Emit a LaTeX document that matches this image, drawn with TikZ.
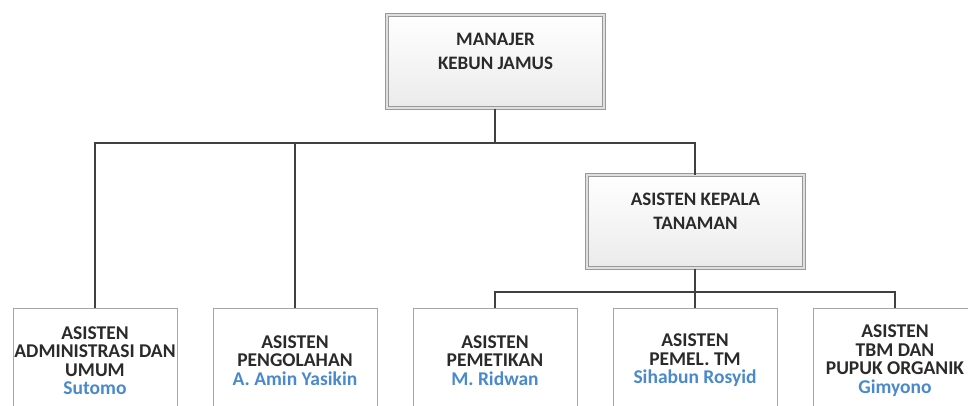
\documentclass[tikz,border=0pt]{standalone}
\usepackage{fontspec}
\setmainfont{Carlito}
\usetikzlibrary{shadows}
\definecolor{linec}{HTML}{404040}
\definecolor{namec}{HTML}{4A89CC}
\definecolor{txtc}{HTML}{2A2A2A}
\begin{document}
\begin{tikzpicture}[x=1pt,y=-1pt,
  topbox/.style={draw=gray!80, double=gray!25, double distance=2.6pt, line width=1pt,
    top color=white, bottom color=gray!16, minimum width=217pt, minimum height=93pt, inner sep=0pt,
    drop shadow={opacity=0.18,shadow xshift=1.5pt,shadow yshift=-1.5pt}},
  toptext/.style={align=center, text=txtc, font=\bfseries\fontsize{19}{24}\selectfont, inner sep=0pt},
  botbox/.style={draw=gray!70, line width=0.9pt, fill=white, minimum width=164pt, minimum height=104pt,
    anchor=north, align=center, text=txtc, font=\bfseries\fontsize{19.5}{18.5}\selectfont, inner sep=0pt},
  conn/.style={draw=linec, line width=1.3pt},
  nm/.style={text=namec}
]
\clip (0,0) rectangle (968,405);
\fill[white] (0,0) rectangle (968,405);

\node[topbox] (mgr) at (495.5,61.5) {};
\node[toptext] (mgrtext) at (495.5,51) {MANAJER\\KEBUN JAMUS};

\node[topbox] (kep) at (695.5,221.5) {};
\node[toptext] (keptext) at (695.5,211) {ASISTEN KEPALA\\TANAMAN};

\node[botbox] (b1) at (95,308) {ASISTEN\\ADMINISTRASI DAN\\UMUM\\\textcolor{namec}{Sutomo}};
\node[botbox] (b2) at (295,308) {ASISTEN\\PENGOLAHAN\\\textcolor{namec}{A. Amin Yasikin}};
\node[botbox] (b3) at (495,308) {ASISTEN\\PEMETIKAN\\\textcolor{namec}{M. Ridwan}};
\node[botbox] (b4) at (695,308) {ASISTEN\\PEMEL. TM\\\textcolor{namec}{Sihabun Rosyid}};
\node[botbox] (b5) at (895,308) {ASISTEN\\TBM DAN\\PUPUK ORGANIK\\\textcolor{namec}{Gimyono}};

\coordinate (j1) at (495,143);
\coordinate (j2) at (695,292);

\draw[conn] (mgr.south -| j1) -- (j1);
\draw[conn] (b1.north) |- (j1) -| (kep.north -| 695,0);
\draw[conn] (b2.north) -- (b2.north |- j1);
\draw[conn] (kep.south -| j2) -- (j2);
\draw[conn] (b3.north) |- (j2) -| (b5.north);
\draw[conn] (b4.north) -- (j2);
\end{tikzpicture}
\end{document}
